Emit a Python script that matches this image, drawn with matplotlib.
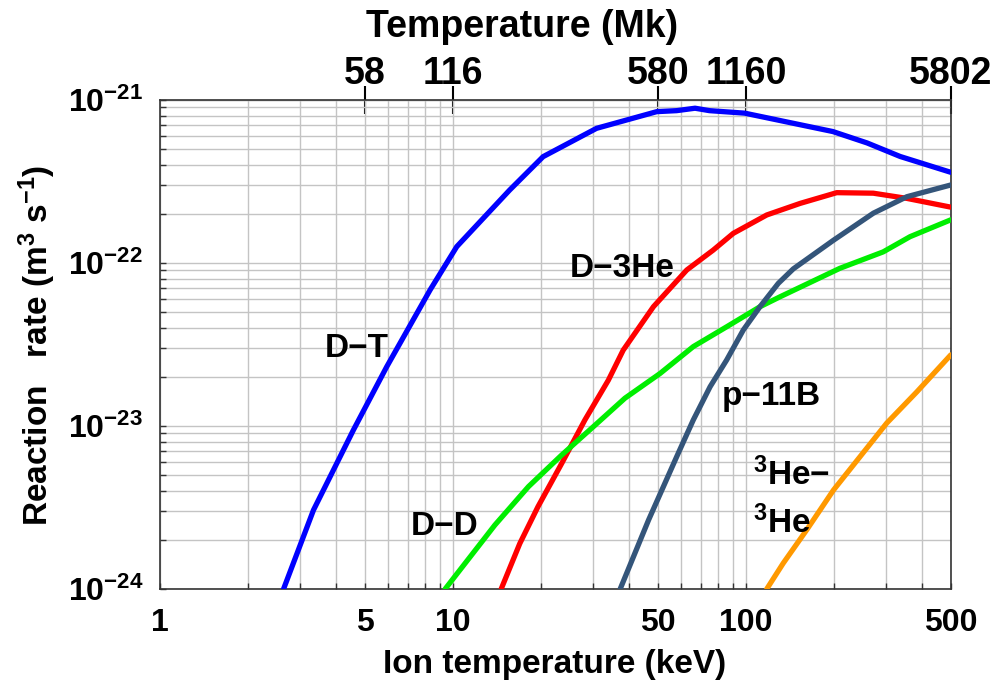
import matplotlib
matplotlib.use("Agg")
import matplotlib.pyplot as plt
from matplotlib.ticker import FixedLocator, NullFormatter, LogLocator

plt.rcParams['font.family'] = ['Liberation Sans', 'DejaVu Sans']
plt.rcParams['mathtext.fontset'] = 'custom'
plt.rcParams['mathtext.rm'] = 'Liberation Sans:bold'
plt.rcParams['mathtext.bf'] = 'Liberation Sans:bold'
plt.rcParams['mathtext.it'] = 'Liberation Sans:bold'

# ---- data (ion temperature in keV, reaction rate in m^3/s) ----
dt_T = [2.64, 3.34, 4.57, 5.94, 8.35, 10.3, 15.6, 20.3, 30.9, 49.6, 58, 67, 75, 99, 198, 259, 336, 500]
dt_R = [1.0e-24, 3.05e-24, 9.44e-24, 2.31e-23, 6.83e-23, 1.26e-22, 2.8e-22, 4.49e-22, 6.7e-22,
        8.48e-22, 8.6e-22, 8.9e-22, 8.6e-22, 8.3e-22, 6.4e-22, 5.45e-22, 4.5e-22, 3.6e-22]

d3he_T = [14.6, 16.9, 19.5, 23.5, 28.2, 33.9, 38.1, 48.3, 62.8, 77.3, 90.5, 117.7, 153, 204, 272, 354, 500]
d3he_R = [1.0e-24, 1.9e-24, 3.2e-24, 5.9e-24, 1.09e-23, 1.91e-23, 2.92e-23, 5.39e-23, 9.06e-23,
          1.2e-22, 1.52e-22, 1.97e-22, 2.32e-22, 2.70e-22, 2.68e-22, 2.49e-22, 2.2e-22]

dd_T = [9.4, 13.9, 18.1, 23.5, 30.5, 38.6, 50.9, 66.1, 85.9, 111.6, 130.6, 209, 294, 363, 500]
dd_R = [1.0e-24, 2.47e-24, 4.25e-24, 6.64e-24, 1.01e-23, 1.48e-23, 2.1e-23, 3.07e-23, 4.06e-23,
        5.39e-23, 6.2e-23, 9.27e-23, 1.17e-22, 1.45e-22, 1.84e-22]

pb_T = [37.2, 46.5, 58, 66.1, 75.4, 85.9, 97.9, 111.6, 128.9, 145, 199, 272, 354, 500]
pb_R = [1.0e-24, 2.65e-24, 6.48e-24, 1.09e-23, 1.74e-23, 2.54e-23, 3.88e-23, 5.39e-23, 7.5e-23,
        9.2e-23, 1.38e-22, 2.02e-22, 2.55e-22, 3.01e-22]

hehe_T = [117.7, 134, 161, 199, 245, 302, 383, 500]
hehe_R = [1.0e-24, 1.44e-24, 2.3e-24, 4.05e-24, 6.48e-24, 1.04e-23, 1.62e-23, 2.73e-23]

x_ticks = [1, 5, 10, 50, 100, 500]
x_ticklabels = ['1', '5', '10', '50', '100', '500']
top_ticks = [5, 10, 50, 100, 500]
top_ticklabels = ['58', '116', '580', '1160', '5802']
y_ticks = [1e-24, 1e-23, 1e-22, 1e-21]
y_ticklabels = [r'$10^{-24}$', r'$10^{-23}$', r'$10^{-22}$', r'$10^{-21}$']

fig = plt.figure(figsize=(10.04, 6.81), dpi=100)
ax = fig.add_axes([0.1594, 0.1351, 0.7876, 0.7181])
ax.set_xscale('log')
ax.set_yscale('log')
ax.set_xlim(1, 500)
ax.set_ylim(1e-24, 1e-21)

lw = 3.8
kw = dict(lw=lw, solid_capstyle='round', solid_joinstyle='round', zorder=5)
ax.plot(dt_T, dt_R, color='#0000ff', **kw)
ax.plot(d3he_T, d3he_R, color='#ff0000', **kw)
ax.plot(dd_T, dd_R, color='#00ee00', **kw)
ax.plot(pb_T, pb_R, color='#34557a', **kw)
ax.plot(hehe_T, hehe_R, color='#ff9900', **kw)

# grid
ax.xaxis.set_minor_locator(LogLocator(base=10, subs=range(1, 10), numticks=20))
ax.yaxis.set_minor_locator(LogLocator(base=10, subs=range(1, 10), numticks=20))
ax.xaxis.set_minor_formatter(NullFormatter())
ax.yaxis.set_minor_formatter(NullFormatter())
ax.grid(True, which='both', color='#c4c4c4', lw=1.0, zorder=0)

ax.set_xticks(x_ticks)
ax.set_xticklabels(x_ticklabels)
ax.set_yticks(y_ticks)
ax.set_yticklabels(y_ticklabels)
ax.tick_params(axis='both', which='both', direction='in', length=4, width=1, colors='#333333',
               labelcolor='black')
ax.tick_params(axis='x', labelsize=23, pad=14)
ax.tick_params(axis='y', labelsize=23, pad=12)
for lab in ax.get_xticklabels():
    lab.set_fontweight('bold')
for sp in ax.spines.values():
    sp.set_color('#333333')
    sp.set_linewidth(1.2)

# top axis (temperature in million kelvin)
sec = ax.secondary_xaxis('top')
sec.set_xticks(top_ticks)
sec.set_xticklabels(top_ticklabels, fontsize=27, fontweight='bold')
sec.xaxis.set_minor_locator(FixedLocator([]))
sec.tick_params(axis='x', which='major', direction='inout', length=20, width=1.5,
                colors='black', pad=-4)
fig.text(522 / 1004, 1 - 37 / 681, 'Temperature (Mk)', fontsize=27, fontweight='bold',
         ha='center', va='baseline')

fig.text(555 / 1004, 1 - 673 / 681, 'Ion temperature (keV)', fontsize=24, fontweight='bold',
         ha='center', va='baseline')
fig.text(37 / 1004, 1 - 345 / 681, 'Reaction   rate (m$^{3}$ s$^{-1}$)', fontsize=24,
         fontweight='bold', rotation=90, ha='center', va='center')

# curve labels
lab_kw = dict(fontsize=24, fontweight='bold', color='black', zorder=6, ha='left', va='baseline')
ax.text(3.66, 2.65e-23, 'D\u2212T', **lab_kw)
ax.text(25.1, 8.2e-23, 'D\u22123He', **lab_kw)
ax.text(7.19, 2.14e-24, 'D\u2212D', **lab_kw)
ax.text(82.8, 1.35e-23, 'p\u221211B', **lab_kw)
ax.text(105.7, 4.35e-24, '$^{3}$He\u2212', **lab_kw)
ax.text(105.7, 2.21e-24, '$^{3}$He', **lab_kw)

fig.savefig('out.png', dpi=100)
